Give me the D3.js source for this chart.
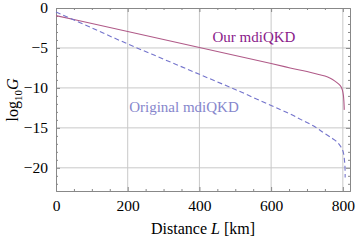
<!DOCTYPE html>
<html>
<head>
<meta charset="utf-8">
<script src="https://cdn.jsdelivr.net/npm/d3@7"></script>
<style>
  body { margin: 0; background: #fff; }
  text { font-family: "Liberation Serif", "DejaVu Serif", serif; }
</style>
</head>
<body>
<svg id="chart" width="356" height="240"></svg>
<script>
// Data (distance in km, log10 G)
const ourDist = [0, 100, 200, 300, 400, 500, 600, 653, 700, 730, 750, 765, 778, 788, 795, 799, 801.5, 803, 804];
const ourLogG = [-0.95, -1.95, -2.95, -3.95, -4.95, -5.95, -6.95, -7.5, -7.95, -8.28, -8.52, -8.8, -9.15, -9.5, -9.85, -10.3, -10.9, -11.7, -12.75];
const origDist = [0, 100, 200, 300, 400, 500, 600, 650, 685, 720, 746, 770, 785, 795, 801, 804, 806, 806.5];
const origLogG = [-0.5, -2.5, -4.5, -6.4, -8.3, -10.2, -12.2, -13.2, -14.0, -14.8, -15.6, -16.3, -16.8, -17.4, -18.0, -18.8, -19.9, -21.2];
const xTicks = [0, 200, 400, 600, 800];
const yTicks = [0, -5, -10, -15, -20];

// Layout
const plotLeft = 56, plotRight = 350, plotTop = 8, plotBottom = 191;
const svg = d3.select("#chart");

const x = d3.scaleLinear().domain([0, 820]).range([plotLeft, plotRight]);
const y = d3.scaleLinear().domain([-22.9, 0]).range([plotBottom, plotTop]);

// Grid lines
svg.append("g")
  .selectAll("line")
  .data(xTicks.slice(1))
  .join("line")
  .attr("x1", d => x(d)).attr("x2", d => x(d))
  .attr("y1", plotTop).attr("y2", plotBottom)
  .attr("stroke", "#c8c8c8").attr("stroke-width", 1);

svg.append("g")
  .selectAll("line")
  .data(yTicks.slice(1))
  .join("line")
  .attr("x1", plotLeft).attr("x2", plotRight)
  .attr("y1", d => y(d)).attr("y2", d => y(d))
  .attr("stroke", "#c8c8c8").attr("stroke-width", 1);

// Frame axes, ticks on all sides pointing in
const frameColor = "#888";
function styleAxis(g) {
  g.select(".domain").attr("stroke", frameColor);
  g.selectAll(".tick line").attr("stroke", frameColor);
  g.selectAll("text").attr("fill", "#000").attr("font-size", "15.5px");
}
const xMinor = d3.range(0, 821, 50).filter(d => d % 200 !== 0);
const yMinor = d3.range(-22, 1, 1).filter(d => d % 5 !== 0);

// bottom
svg.append("g").attr("transform", `translate(0,${plotBottom})`)
  .call(d3.axisBottom(x).tickValues(xTicks).tickSize(-4).tickPadding(9).tickSizeOuter(0))
  .call(styleAxis);
svg.append("g").attr("transform", `translate(0,${plotBottom})`)
  .call(d3.axisBottom(x).tickValues(xMinor).tickSize(-2).tickFormat("").tickSizeOuter(0))
  .call(styleAxis);
// top
svg.append("g").attr("transform", `translate(0,${plotTop})`)
  .call(d3.axisTop(x).tickValues(xTicks).tickSize(-4).tickFormat("").tickSizeOuter(0))
  .call(styleAxis);
svg.append("g").attr("transform", `translate(0,${plotTop})`)
  .call(d3.axisTop(x).tickValues(xMinor).tickSize(-2).tickFormat("").tickSizeOuter(0))
  .call(styleAxis);
// left
svg.append("g").attr("transform", `translate(${plotLeft},0)`)
  .call(d3.axisLeft(y).tickValues(yTicks).tickSize(-4).tickPadding(8).tickSizeOuter(0)
    .tickFormat(d => d === 0 ? "0" : "\u2212" + Math.abs(d)))
  .call(styleAxis);
svg.append("g").attr("transform", `translate(${plotLeft},0)`)
  .call(d3.axisLeft(y).tickValues(yMinor).tickSize(-2).tickFormat("").tickSizeOuter(0))
  .call(styleAxis);
// right
svg.append("g").attr("transform", `translate(${plotRight},0)`)
  .call(d3.axisRight(y).tickValues(yTicks).tickSize(-4).tickFormat("").tickSizeOuter(0))
  .call(styleAxis);
svg.append("g").attr("transform", `translate(${plotRight},0)`)
  .call(d3.axisRight(y).tickValues(yMinor).tickSize(-2).tickFormat("").tickSizeOuter(0))
  .call(styleAxis);

// Curves (parametric spline so the near-vertical ends stay smooth)
const line = d3.line().x(d => x(d[0])).y(d => y(d[1])).curve(d3.curveCatmullRom.alpha(0.5));

svg.append("path")
  .datum(d3.zip(ourDist, ourLogG))
  .attr("d", line)
  .attr("fill", "none")
  .attr("stroke", "#b05a88")
  .attr("stroke-width", 1.1);

svg.append("path")
  .datum(d3.zip(origDist, origLogG))
  .attr("d", line)
  .attr("fill", "none")
  .attr("stroke", "#7474cc")
  .attr("stroke-width", 1.1)
  .attr("stroke-dasharray", "5,3");

// Labels on curves
svg.append("text")
  .attr("x", 254).attr("y", 42)
  .attr("text-anchor", "middle")
  .attr("font-size", "15px")
  .attr("fill", "#8a1a8a")
  .text("Our mdiQKD");

svg.append("text")
  .attr("x", 184).attr("y", 112)
  .attr("text-anchor", "middle")
  .attr("font-size", "15px")
  .attr("fill", "#8686cc")
  .text("Original mdiQKD");

// Axis titles
const xt = svg.append("text")
  .attr("x", 203).attr("y", 234)
  .attr("text-anchor", "middle")
  .attr("font-size", "16px");
xt.append("tspan").text("Distance ");
xt.append("tspan").attr("font-style", "italic").text("L");
xt.append("tspan").text(" [km]");

const yt = svg.append("text")
  .attr("transform", "translate(18,100) rotate(-90)")
  .attr("text-anchor", "middle")
  .attr("font-size", "16px");
yt.append("tspan").text("log");
yt.append("tspan").attr("font-size", "11px").attr("dy", 4).text("10");
yt.append("tspan").attr("font-style", "italic").attr("dy", -4).text("G");
</script>
</body>
</html>
